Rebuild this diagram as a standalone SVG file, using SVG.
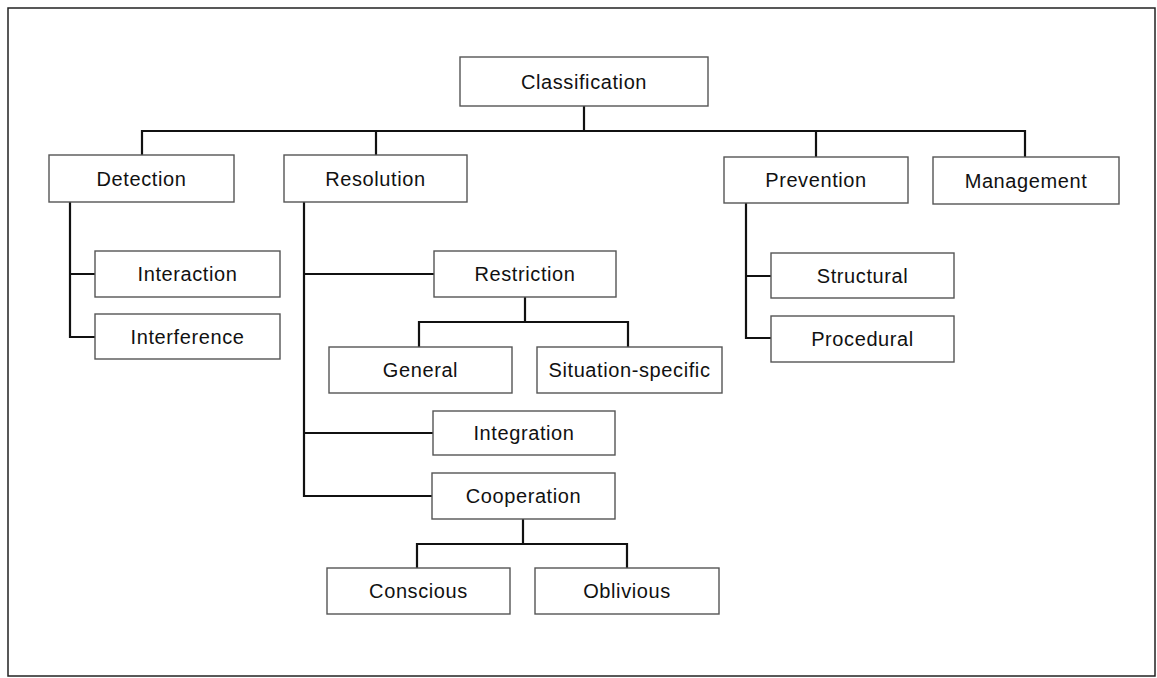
<svg xmlns="http://www.w3.org/2000/svg" width="1157" height="678" viewBox="0 0 1157 678">
  <style>
    .frame { fill: none; stroke: #222; stroke-width: 1.5; }
    .box { fill: #fff; stroke: #555; stroke-width: 1.4; }
    .label { font-family: "Liberation Sans", Arial, sans-serif; font-size: 20px; letter-spacing: 0.6px; fill: #111; text-anchor: middle; }
    .link { fill: none; stroke: #111; stroke-width: 2.2; stroke-linecap: square; }
  </style>
  <rect width="1157" height="678" fill="#fff"/>
  <rect class="frame" x="8" y="8" width="1147" height="668"/>

  <!-- tree connectors -->
  <g id="connectors">
    <path class="link" d="M584 106V131M142 131H1025M142 131V155M376 131V155M816 131V157M1025 131V157"/>
    <path class="link" d="M70 202V337M70 274H95M70 337H95"/>
    <path class="link" d="M746 203V338M746 276H771M746 338H771"/>
    <path class="link" d="M304 202V496M304 274H434M304 433H433M304 496H432"/>
    <path class="link" d="M525 297V322M419 322H628M419 322V347M628 322V347"/>
    <path class="link" d="M523 519V544M417 544H627M417 544V568M627 544V568"/>
  </g>

  <g id="classification"><rect class="box" x="460" y="57" width="248" height="49"/><text class="label" x="584" y="88.5">Classification</text></g>
  <g id="detection"><rect class="box" x="49" y="155" width="185" height="47"/><text class="label" x="141.5" y="185.5">Detection</text></g>
  <g id="resolution"><rect class="box" x="284" y="155" width="183" height="47"/><text class="label" x="375.5" y="185.5">Resolution</text></g>
  <g id="prevention"><rect class="box" x="724" y="157" width="184" height="46"/><text class="label" x="816" y="187">Prevention</text></g>
  <g id="management"><rect class="box" x="933" y="157" width="186" height="47"/><text class="label" x="1026" y="187.5">Management</text></g>
  <g id="interaction"><rect class="box" x="95" y="251" width="185" height="46"/><text class="label" x="187.5" y="281">Interaction</text></g>
  <g id="interference"><rect class="box" x="95" y="314" width="185" height="45"/><text class="label" x="187.5" y="343.5">Interference</text></g>
  <g id="structural"><rect class="box" x="771" y="253" width="183" height="45"/><text class="label" x="862.5" y="282.5">Structural</text></g>
  <g id="procedural"><rect class="box" x="771" y="316" width="183" height="46"/><text class="label" x="862.5" y="346">Procedural</text></g>
  <g id="restriction"><rect class="box" x="434" y="251" width="182" height="46"/><text class="label" x="525" y="281">Restriction</text></g>
  <g id="general"><rect class="box" x="329" y="347" width="183" height="46"/><text class="label" x="420.5" y="377">General</text></g>
  <g id="situation-specific"><rect class="box" x="537" y="347" width="185" height="46"/><text class="label" x="629.5" y="377">Situation-specific</text></g>
  <g id="integration"><rect class="box" x="433" y="411" width="182" height="44"/><text class="label" x="524" y="440">Integration</text></g>
  <g id="cooperation"><rect class="box" x="432" y="473" width="183" height="46"/><text class="label" x="523.5" y="503">Cooperation</text></g>
  <g id="conscious"><rect class="box" x="327" y="568" width="183" height="46"/><text class="label" x="418.5" y="598">Conscious</text></g>
  <g id="oblivious"><rect class="box" x="535" y="568" width="184" height="46"/><text class="label" x="627" y="598">Oblivious</text></g>
</svg>
